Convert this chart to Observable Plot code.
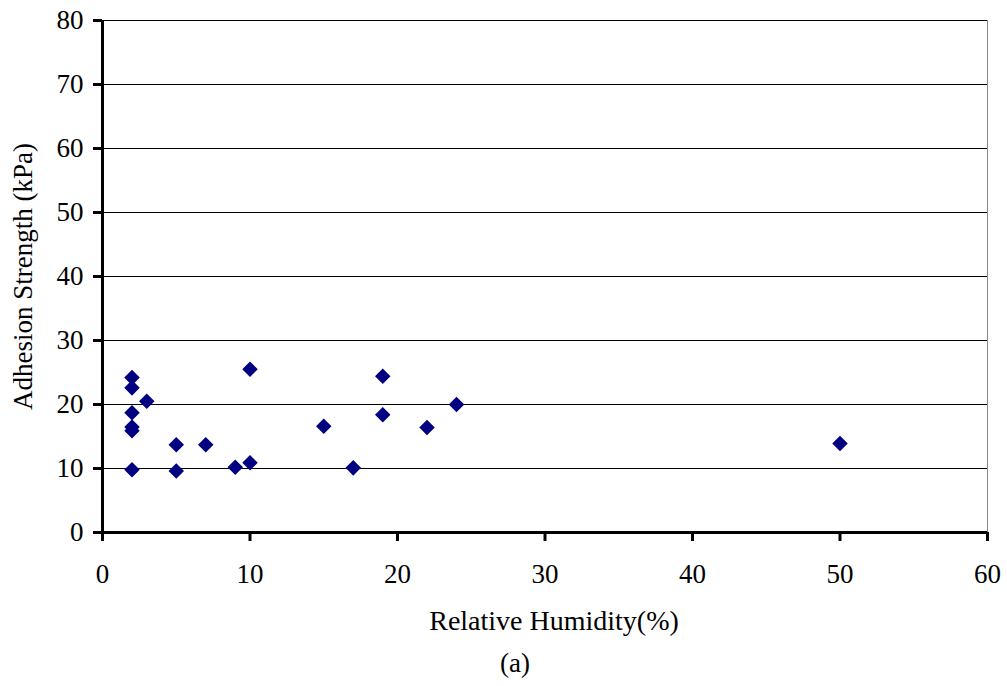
<!DOCTYPE html>
<html>
<head>
<meta charset="utf-8">
<script src="https://cdn.jsdelivr.net/npm/d3@7"></script>
<script src="https://cdn.jsdelivr.net/npm/@observablehq/plot@0.6"></script>
<style>
  html, body { margin: 0; padding: 0; background: #fff; }
  #chart svg { display: block; }
  #chart svg text { fill: #000; }
  #caption { width: 1030px; text-align: center; font-family: "Liberation Serif", serif; font-size: 27px; line-height: 36px; color: #000; }
</style>
</head>
<body>
<div id="chart"></div>
<div id="caption">(a)</div>
<script>
const humidity = [2, 2, 2, 2, 2, 2, 3, 5, 5, 7, 9, 10, 10, 15, 17, 19, 19, 22, 24, 50];
const adhesion = [24.2, 22.6, 18.7, 16.5, 15.9, 9.8, 20.5, 13.7, 9.6, 13.7, 10.2, 10.9, 25.5, 16.6, 10.1, 24.4, 18.4, 16.4, 20.0, 13.9];
const xTicks = [0, 10, 20, 30, 40, 50, 60];
const yTicks = [0, 10, 20, 30, 40, 50, 60, 70, 80];
const gridTicks = [10, 20, 30, 40, 50, 60, 70, 80];
const xTitle = ["Relative Humidity(%)"];

const data = humidity.map((h, i) => ({h, a: adhesion[i]}));

const chart = Plot.plot({
  width: 1007,
  height: 645,
  marginLeft: 102,
  marginRight: 20,
  marginTop: 20,
  marginBottom: 113,
  style: {fontFamily: "'Liberation Serif', serif", fontSize: "27px", color: "#000", background: "#fff"},
  x: {domain: [0, 60]},
  y: {domain: [0, 80]},
  marks: [
    Plot.gridY(gridTicks, {stroke: "#000", strokeOpacity: 1, strokeWidth: 1}),
    Plot.ruleX([60], {stroke: "#888", strokeWidth: 1}),
    Plot.axisX(xTicks, {tickSize: 9, strokeWidth: 3, tickPadding: 22, fontSize: 27, label: null}),
    Plot.text(xTitle, {frameAnchor: "bottom", dy: 97, dx: 9, fontSize: 28, fill: "#000"}),
    Plot.axisY(yTicks, {tickSize: 9, strokeWidth: 3, tickPadding: 10, fontSize: 27, label: "Adhesion Strength (kPa)", labelAnchor: "center", labelArrow: "none", labelOffset: 90}),
    Plot.ruleX([0], {stroke: "#000", strokeWidth: 3}),
    Plot.ruleY([0], {stroke: "#000", strokeWidth: 3}),
    Plot.dot(data, {x: "h", y: "a", symbol: "diamond2", r: 7, fill: "#000080", stroke: "none"})
  ]
});
document.getElementById("chart").appendChild(chart);
</script>
</body>
</html>
